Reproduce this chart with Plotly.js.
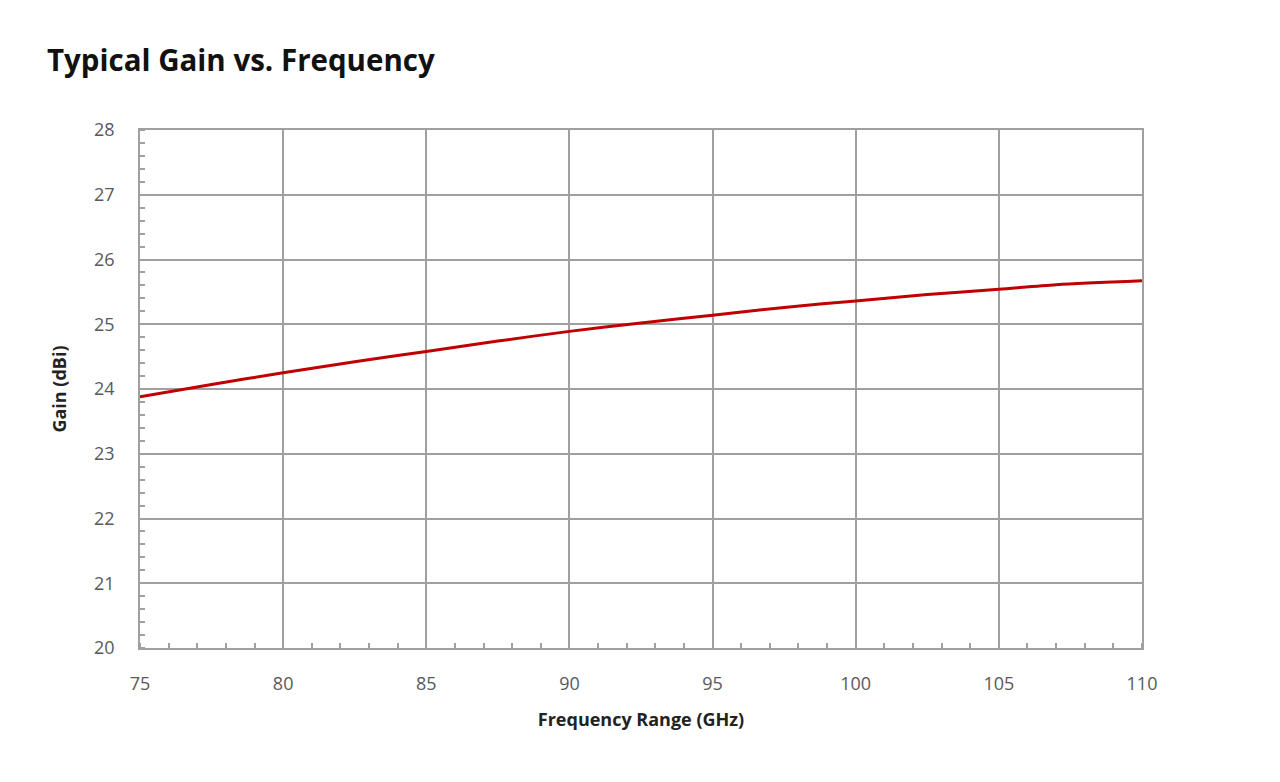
<!DOCTYPE html>
<html><head><meta charset="utf-8">
<script src="https://cdn.plot.ly/plotly-3.0.1.min.js"></script>
<style>html,body{margin:0;padding:0;background:#fff;}#chart{width:1280px;height:782px;}</style>
</head><body><div id="chart"></div>
<script>
const frequencyGHz = [75, 77.5, 80, 82.5, 85, 87.5, 90, 92.5, 95, 97.5, 100, 102.5, 105, 107, 110];
const gainDBi = [23.88, 24.07, 24.25, 24.42, 24.58, 24.74, 24.89, 25.02, 25.14, 25.26, 25.36, 25.46, 25.54, 25.61, 25.67];
const xTicks = [75, 80, 85, 90, 95, 100, 105, 110];
const yTicks = [20, 21, 22, 23, 24, 25, 26, 27, 28];

const gridColor = '#a0a0a0';
const trace = {
  x: frequencyGHz, y: gainDBi, type: 'scatter', mode: 'lines',
  line: {color: '#c00000', width: 3, shape: 'spline', smoothing: 0.8},
  hoverinfo: 'x+y'
};
const layout = {
  width: 1280, height: 782,
  paper_bgcolor: '#fff', plot_bgcolor: '#fff',
  margin: {l: 140, r: 138, t: 130, b: 134},
  showlegend: false,
  title: {text: 'Typical Gain vs. Frequency', x: 47/1280, xanchor: 'left', xref: 'container', y: 1 - 61/782, yanchor: 'middle', yref: 'container',
    font: {family: 'Open Sans, sans-serif', size: 29.5, color: '#111', weight: 'bold'}},
  xaxis: {
    range: [75, 110], tickvals: xTicks, ticktext: xTicks.map(String),
    showgrid: true, gridcolor: gridColor, gridwidth: 1.5,
    showline: true, linecolor: gridColor, linewidth: 1.5, mirror: true,
    ticks: '', zeroline: false,
    tickfont: {family: 'Open Sans, sans-serif', size: 18, color: '#595959'},
    ticklabelstandoff: 19,
    minor: {dtick: 1, tick0: 75, ticks: 'inside', ticklen: 5, tickcolor: gridColor, tickwidth: 1.5, showgrid: false},
    title: {text: 'Frequency Range (GHz)', standoff: 19, font: {family: 'Open Sans, sans-serif', size: 18, color: '#222', weight: 'bold'}}
  },
  yaxis: {
    range: [20, 28], tickvals: yTicks, ticktext: yTicks.map(String),
    showgrid: true, gridcolor: gridColor, gridwidth: 1.5,
    showline: true, linecolor: gridColor, linewidth: 1.5, mirror: true,
    ticks: '', zeroline: false,
    tickfont: {family: 'Open Sans, sans-serif', size: 18, color: '#595959'},
    ticklabelstandoff: 20,
    minor: {dtick: 0.2, tick0: 20, ticks: 'inside', ticklen: 5, tickcolor: gridColor, tickwidth: 1.5, showgrid: false},
    title: {text: 'Gain (dBi)', standoff: 23, font: {family: 'Open Sans, sans-serif', size: 18, color: '#222', weight: 'bold'}}
  }
};
Plotly.newPlot('chart', [trace], layout, {displayModeBar: false});
</script></body></html>
